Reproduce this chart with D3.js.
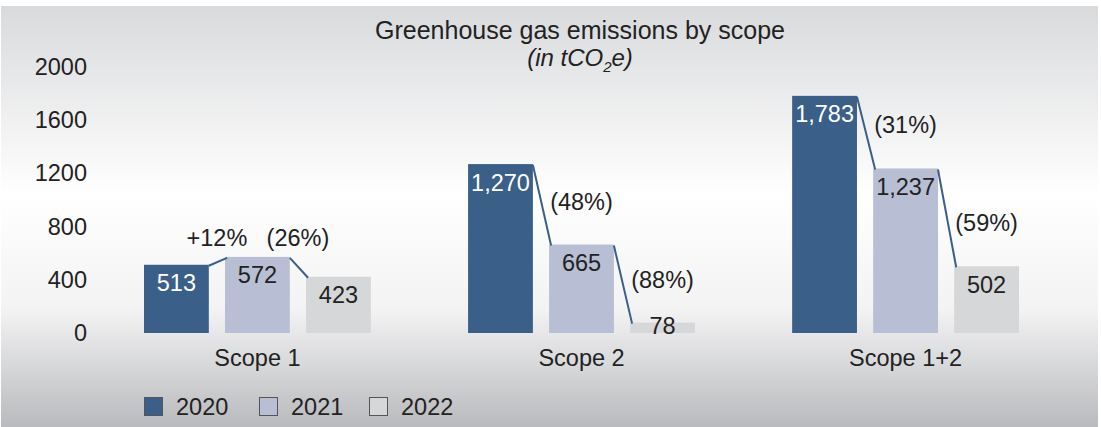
<!DOCTYPE html>
<html>
<head>
<meta charset="utf-8">
<script src="https://cdn.jsdelivr.net/npm/d3@7"></script>
<style>
  body { margin: 0; background: #fff; }
  text { font-family: "Liberation Sans", Arial, sans-serif; }
</style>
</head>
<body>
<svg id="chart" width="1101" height="427"></svg>
<script>
// data
var scopes = ["Scope 1", "Scope 2", "Scope 1+2"];
var years = ["2020", "2021", "2022"];
var emissions2020 = [513, 1270, 1783];
var emissions2021 = [572, 665, 1237];
var emissions2022 = [423, 78, 502];
var yTicks = [0, 400, 800, 1200, 1600, 2000];
var colors = ["#3a5f88", "#b8bed3", "#d6d7d9"];

var series = [emissions2020, emissions2021, emissions2022];
var fs = 23.5;

var svg = d3.select("#chart");

// background panel gradient
var defs = svg.append("defs");
var grad = defs.append("linearGradient")
    .attr("id", "bg").attr("x1", 0).attr("y1", 0).attr("x2", 0).attr("y2", 1);
grad.append("stop").attr("offset", "0%").attr("stop-color", "#d9dadc");
grad.append("stop").attr("offset", "45%").attr("stop-color", "#ffffff");
grad.append("stop").attr("offset", "72%").attr("stop-color", "#f3f3f4");
grad.append("stop").attr("offset", "100%").attr("stop-color", "#b9babd");

svg.append("rect")
    .attr("x", 1).attr("y", 6)
    .attr("width", 1097).attr("height", 421)
    .attr("fill", "url(#bg)");

var y = d3.scaleLinear().domain([0, 2000]).range([333, 67]);

var x0 = d3.scaleBand()
    .domain(scopes)
    .range([144, 1019])
    .paddingInner(0.3)
    .paddingOuter(0);

var x1 = d3.scaleBand()
    .domain(years)
    .range([0, x0.bandwidth()])
    .paddingInner(0.2);

// title
svg.append("text")
    .attr("x", 580).attr("y", 39)
    .attr("text-anchor", "middle")
    .attr("font-size", 25)
    .attr("fill", "#222")
    .text("Greenhouse gas emissions by scope");

var sub = svg.append("text")
    .attr("x", 580).attr("y", 66)
    .attr("text-anchor", "middle")
    .attr("font-size", 24)
    .attr("font-style", "italic")
    .attr("fill", "#222");
sub.append("tspan").text("(in tCO");
sub.append("tspan").attr("font-size", 15).attr("dy", 6).text("2");
sub.append("tspan").attr("dy", -6).text("e)");

// y axis labels
var yAxis = d3.axisLeft(y).tickValues(yTicks).tickSize(0).tickPadding(0)
    .tickFormat(d3.format("d"));
var yg = svg.append("g")
    .attr("transform", "translate(87,0)")
    .call(yAxis);
yg.select(".domain").remove();
yg.selectAll("text")
    .attr("font-size", fs)
    .attr("font-family", "Liberation Sans, Arial, sans-serif")
    .attr("fill", "#222");

// x axis labels
var xAxis = d3.axisBottom(x0).tickSize(0).tickPadding(0);
var xg = svg.append("g")
    .attr("transform", "translate(0,349)")
    .call(xAxis);
xg.select(".domain").remove();
xg.selectAll("text")
    .attr("font-size", fs)
    .attr("font-family", "Liberation Sans, Arial, sans-serif")
    .attr("fill", "#222");

var fmt = d3.format(",");

function pctLabel(a, b) {
    var p = Math.round((b - a) / a * 100);
    return p >= 0 ? "+" + p + "%" : "(" + Math.abs(p) + "%)";
}

scopes.forEach(function(s, i) {
    var g = svg.append("g").attr("transform", "translate(" + x0(s) + ",0)");
    var vals = series.map(function(arr) { return arr[i]; });

    g.selectAll("rect")
        .data(vals)
        .enter().append("rect")
        .attr("x", function(d, j) { return x1(years[j]); })
        .attr("y", function(d) { return y(d); })
        .attr("width", x1.bandwidth())
        .attr("height", function(d) { return y(0) - y(d); })
        .attr("fill", function(d, j) { return colors[j]; });

    g.selectAll("text.val")
        .data(vals)
        .enter().append("text")
        .attr("class", "val")
        .attr("x", function(d, j) { return x1(years[j]) + x1.bandwidth() / 2; })
        .attr("y", function(d) { return Math.min(y(d) + 26.5, y(0) + 1); })
        .attr("text-anchor", "middle")
        .attr("font-size", fs)
        .attr("fill", function(d, j) { return j === 0 ? "#fff" : "#222"; })
        .text(function(d) { return fmt(d); });

    var shortGroup = d3.max(vals) < 800;

    for (var j = 0; j < vals.length - 1; j++) {
        var a = vals[j], b = vals[j + 1];
        var xa = x1(years[j]) + x1.bandwidth();
        var xb = x1(years[j + 1]);
        g.append("line")
            .attr("x1", xa).attr("y1", y(a) + 1)
            .attr("x2", xb + 2).attr("y2", y(b) + 1)
            .attr("stroke", colors[0])
            .attr("stroke-width", 2);

        var lx, ly;
        if (shortGroup) {
            lx = (xa + xb) / 2;
            ly = y(Math.max(a, b)) - 11;
        } else {
            lx = x1(years[j + 1]) + x1.bandwidth() / 2;
            ly = y(b) - 35;
        }
        g.append("text")
            .attr("x", lx).attr("y", ly)
            .attr("text-anchor", "middle")
            .attr("font-size", fs)
            .attr("fill", "#222")
            .text(pctLabel(a, b));
    }
});

// legend
var legend = svg.append("g").attr("transform", "translate(144,397)");
var legX = [0, 115, 225];
years.forEach(function(yr, i) {
    var lg = legend.append("g").attr("transform", "translate(" + legX[i] + ",0)");
    lg.append("rect")
        .attr("x", 0.5).attr("y", 0.5)
        .attr("width", 18).attr("height", 18)
        .attr("fill", colors[i])
        .attr("stroke", "#555")
        .attr("stroke-width", 1);
    lg.append("text")
        .attr("x", 32).attr("y", 18)
        .attr("font-size", fs)
        .attr("fill", "#222")
        .text(yr);
});
</script>
</body>
</html>
